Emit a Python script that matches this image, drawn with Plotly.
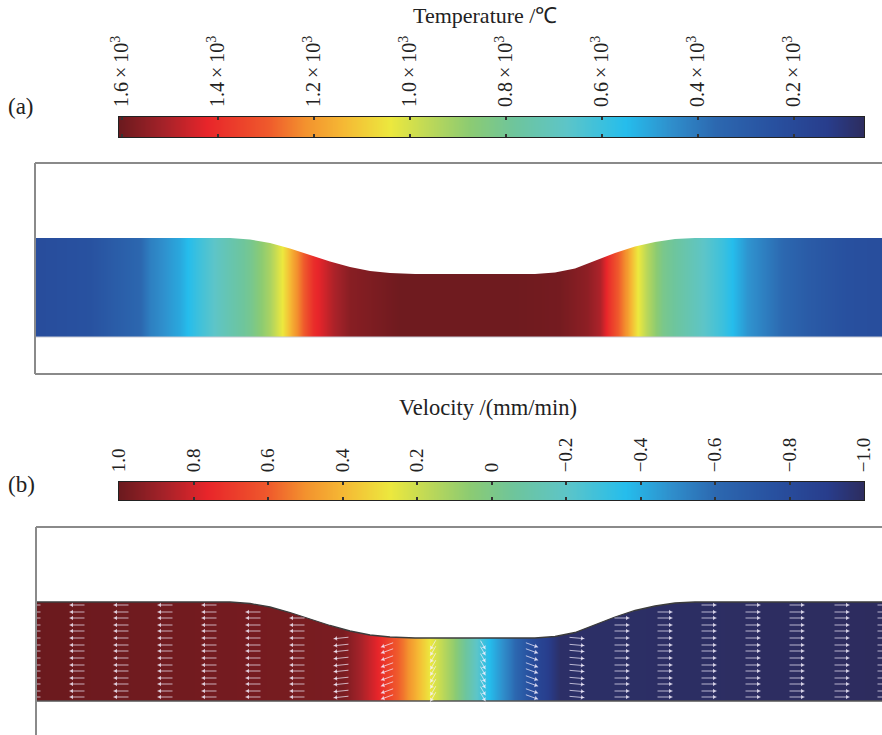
import numpy as np
import plotly.graph_objects as go

W, H = 882, 735

# ---------------- data ----------------
# channel upper boundary (mm); lower boundary is y = 0
profile_x = [0, 19.5, 21.5, 23.5, 25.5, 27.5, 29.5, 31.5, 33.5, 35.5, 38, 50, 52, 54, 56, 58, 60, 62, 64, 66, 84.7]
profile_top = [9.9, 9.9, 9.75, 9.4, 8.85, 8.2, 7.55, 7.0, 6.6, 6.4, 6.3, 6.3, 6.45, 6.85, 7.6, 8.4, 9.05, 9.5, 9.8, 9.9, 9.9]

# temperature along the channel (mm, degC)
temp_x = [0, 5.5, 10.5, 11.5, 14.5, 16.2, 18.5, 21.5, 23.5, 24.8, 25.8, 27.8, 29.8, 31.5, 36.5,
          47.8, 52.5, 55.2, 56.5, 57.3, 59.2, 60.2, 61.2, 62.8, 66.2, 68.8, 71.2, 74.2, 77.2, 81.2, 84.7]
temp_T = [220, 250, 360, 420, 510, 600, 700, 810, 930, 1050, 1180, 1400, 1500, 1560, 1600,
          1600, 1590, 1550, 1500, 1400, 1200, 1050, 950, 820, 700, 600, 470, 380, 300, 240, 225]

# velocity along the channel (mm, mm/min)
vel_x = [0, 30.8, 32.5, 34.2, 36.8, 39.5, 41.8, 43.5, 45.3, 47.5, 49.8, 52.5, 84.7]
vel_v = [1.0, 0.97, 0.88, 0.77, 0.55, 0.27, 0.08, -0.12, -0.35, -0.55, -0.8, -0.98, -1.0]

# velocity arrows
arrow_cols = [-0.2, 4.2, 8.6, 13.0, 17.4, 21.8, 26.2, 30.6, 35.2, 39.8, 44.8, 49.7, 54.2,
              58.7, 63.0, 67.4, 71.8, 76.2, 80.7, 85.0]
arrow_dir = [180, 180, 180, 180, 180, 180, 180, 186, 200, 240, 300, 340, 355,
             0, 0, 0, 0, 0, 0, 0]
arrow_len = [1.5, 1.5, 1.5, 1.5, 1.5, 1.5, 1.5, 1.5, 1.3, 1.1, 1.0, 1.3, 1.5,
             1.5, 1.5, 1.5, 1.5, 1.5, 1.5, 1.5]
arrow_rows = [0.4, 1.0, 1.7, 2.3, 3.0, 3.6, 4.3, 5.0, 5.6, 6.3, 7.0, 7.6, 8.3, 8.9, 9.6]

# colour bar ticks
temp_ticks = [1600, 1400, 1200, 1000, 800, 600, 400, 200]
temp_ticktext = ["1.6\u2009×\u200910<sup>3</sup>", "1.4\u2009×\u200910<sup>3</sup>", "1.2\u2009×\u200910<sup>3</sup>",
                 "1.0\u2009×\u200910<sup>3</sup>", "0.8\u2009×\u200910<sup>3</sup>", "0.6\u2009×\u200910<sup>3</sup>",
                 "0.4\u2009×\u200910<sup>3</sup>", "0.2\u2009×\u200910<sup>3</sup>"]
temp_range = [54, 1606]
vel_ticks = [1.0, 0.8, 0.6, 0.4, 0.2, 0, -0.2, -0.4, -0.6, -0.8, -1.0]
vel_ticktext = ["1.0", "0.8", "0.6", "0.4", "0.2", "0", "−0.2", "−0.4", "−0.6", "−0.8", "−1.0"]
vel_range = [-1.0, 1.0]

# ---------------- styling ----------------
colorscale = [
    [0.00, "#2d2c5e"], [0.05, "#283d8c"], [0.12, "#28509f"], [0.20, "#2c68b0"],
    [0.26, "#2f8fcc"], [0.32, "#25bdec"], [0.40, "#5dc5c8"], [0.47, "#6ec59c"],
    [0.53, "#8ccb72"], [0.58, "#b9d75a"], [0.636, "#ece83e"], [0.70, "#f5b834"],
    [0.75, "#f3922e"], [0.80, "#ef5a2c"], [0.882, "#e8252a"], [0.94, "#a52229"],
    [1.00, "#6b1a1e"],
]
SERIF = "Liberation Serif, Times New Roman, serif"
XMAX = 84.7


def py(p):  # pixel row -> paper y
    return 1 - p / H


def px(p):
    return p / W


fig = go.Figure()

# ---- field panels ----
panels = [
    dict(xa="x", ya="y", xs=temp_x, zs=temp_T, rng=temp_range, yr=[-3.7, 17.4], dom=[py(374), py(163)], outline=False),
    dict(xa="x2", ya="y2", xs=vel_x, zs=vel_v, rng=vel_range, yr=[-3.4, 17.4], dom=[py(735), py(527)], outline=True),
]
for i, p in enumerate(panels):
    fig.add_trace(go.Heatmap(
        x=p["xs"], y=[-1, 11], z=[p["zs"], p["zs"]], zsmooth="best",
        colorscale=colorscale, zmin=p["rng"][0], zmax=p["rng"][1], showscale=False,
        xaxis=p["xa"], yaxis=p["ya"], hoverinfo="skip"))
    # white masks outside the channel
    fig.add_trace(go.Scatter(
        x=[-1] + profile_x + [86, 86, -1], y=[9.9] + profile_top + [9.9, 25, 25],
        fill="toself", fillcolor="white", mode="lines", line=dict(width=0),
        xaxis=p["xa"], yaxis=p["ya"], hoverinfo="skip"))
    fig.add_trace(go.Scatter(
        x=[-1, 86, 86, -1], y=[0, 0, -6, -6],
        fill="toself", fillcolor="white", mode="lines", line=dict(width=0),
        xaxis=p["xa"], yaxis=p["ya"], hoverinfo="skip"))
    if p["outline"]:
        fig.add_trace(go.Scatter(x=profile_x, y=profile_top, mode="lines",
                                 line=dict(color="#3c3c3c", width=1.3),
                                 xaxis=p["xa"], yaxis=p["ya"], hoverinfo="skip"))
        fig.add_trace(go.Scatter(x=[0, XMAX], y=[0, 0], mode="lines",
                                 line=dict(color="#555555", width=1.3),
                                 xaxis=p["xa"], yaxis=p["ya"], hoverinfo="skip"))
    else:
        fig.add_trace(go.Scatter(x=[0, XMAX], y=[0, 0], mode="lines",
                                 line=dict(color="#c9ccd6", width=1),
                                 xaxis=p["xa"], yaxis=p["ya"], hoverinfo="skip"))

# ---- arrows on velocity panel ----
sx, sy, hx, hy, ha = [], [], [], [], []
for cx, d, L in zip(arrow_cols, arrow_dir, arrow_len):
    top = float(np.interp(cx, profile_x, profile_top))
    c, s = np.cos(np.radians(d)), np.sin(np.radians(d))
    for ry in arrow_rows:
        if ry > top - 0.3:
            continue
        x0, y0 = cx - 0.5 * L * c, ry - 0.5 * L * s
        x1, y1 = cx + 0.5 * L * c, ry + 0.5 * L * s
        sx += [x0, x1, None]
        sy += [y0, y1, None]
        hx.append(x1 - 0.25 * c)
        hy.append(y1 - 0.25 * s)
        ha.append(90 - d)
fig.add_trace(go.Scatter(x=sx, y=sy, mode="lines", line=dict(color="rgba(245,240,255,0.7)", width=1),
                         xaxis="x2", yaxis="y2", hoverinfo="skip"))
fig.add_trace(go.Scatter(x=hx, y=hy, mode="markers",
                         marker=dict(symbol="triangle-up", size=4, angle=ha, color="rgba(245,240,255,0.75)",
                                     line=dict(width=0)),
                         xaxis="x2", yaxis="y2", hoverinfo="skip"))

# ---- colour bars as strips ----
cb_a_vals = np.linspace(temp_range[0], temp_range[1], 300)
cb_b_vals = np.linspace(vel_range[0], vel_range[1], 300)
fig.add_trace(go.Heatmap(x=cb_a_vals, y=[0, 1], z=[cb_a_vals, cb_a_vals], zsmooth="best",
                         colorscale=colorscale, zmin=temp_range[0], zmax=temp_range[1],
                         showscale=False, xaxis="x3", yaxis="y3", hoverinfo="skip"))
fig.add_trace(go.Heatmap(x=cb_b_vals, y=[0, 1], z=[cb_b_vals, cb_b_vals], zsmooth="best",
                         colorscale=colorscale, zmin=vel_range[0], zmax=vel_range[1],
                         showscale=False, xaxis="x4", yaxis="y4", hoverinfo="skip"))

hidden = dict(visible=False, showgrid=False, zeroline=False, automargin=False)
cbx = dict(side="top", tickangle=-90, ticks="inside", ticklen=3, tickwidth=1.5, tickcolor="#333",
           showline=True, linecolor="#222", linewidth=1, mirror="ticks", showgrid=False, zeroline=False,
           ticklabelstandoff=5, automargin=False)
cby = dict(range=[0, 1], showticklabels=False, ticks="", showline=True, linecolor="#222", linewidth=1,
           mirror=True, showgrid=False, zeroline=False, automargin=False)

fig.update_layout(
    width=W, height=H, margin=dict(l=0, r=0, t=0, b=0, autoexpand=False), autosize=False,
    paper_bgcolor="white", plot_bgcolor="white", showlegend=False,
    xaxis=dict(domain=[px(35), 1], range=[0, XMAX], anchor="y", **hidden),
    yaxis=dict(domain=panels[0]["dom"], range=panels[0]["yr"], anchor="x", **hidden),
    xaxis2=dict(domain=[px(35), 1], range=[0, XMAX], anchor="y2", **hidden),
    yaxis2=dict(domain=panels[1]["dom"], range=panels[1]["yr"], anchor="x2", **hidden),
    xaxis3=dict(domain=[px(119), px(864)], range=[temp_range[1], temp_range[0]], anchor="y3",
                tickvals=temp_ticks, ticktext=temp_ticktext,
                tickfont=dict(family=SERIF, size=20, color="#222"), **cbx),
    yaxis3=dict(domain=[py(137), py(117)], anchor="x3", **cby),
    xaxis4=dict(domain=[px(119), px(864)], range=[vel_range[1], vel_range[0]], anchor="y4",
                tickvals=vel_ticks, ticktext=vel_ticktext,
                tickfont=dict(family=SERIF, size=19, color="#222"), **cbx),
    yaxis4=dict(domain=[py(500), py(482)], anchor="x4", **cby),
)

# frame lines
frame = dict(color="#8a8a8a", width=2)
shapes = [
    dict(type="line", xref="paper", yref="paper", x0=px(35), x1=1, y0=py(163), y1=py(163), line=frame),
    dict(type="line", xref="paper", yref="paper", x0=px(35), x1=1, y0=py(374), y1=py(374), line=frame),
    dict(type="line", xref="paper", yref="paper", x0=px(35), x1=px(35), y0=py(374), y1=py(163), line=frame),
    dict(type="line", xref="paper", yref="paper", x0=px(36), x1=1, y0=py(527), y1=py(527), line=frame),
    dict(type="line", xref="paper", yref="paper", x0=px(36), x1=px(36), y0=0, y1=py(527), line=frame),
]
fig.update_layout(shapes=[dict(s, layer="above") for s in shapes])

tfont = dict(family=SERIF, size=22, color="#222")
fig.add_annotation(x=px(485), y=py(15), xref="paper", yref="paper", text="Temperature /℃",
                   showarrow=False, font=tfont, xanchor="center", yanchor="middle")
fig.add_annotation(x=px(488), y=py(407), xref="paper", yref="paper", text="Velocity /(mm/min)",
                   showarrow=False, font=dict(tfont, size=22.5), xanchor="center", yanchor="middle")
fig.add_annotation(x=px(6), y=py(106), xref="paper", yref="paper", text="(a)",
                   showarrow=False, font=dict(tfont, size=23), xanchor="left", yanchor="middle")
fig.add_annotation(x=px(6), y=py(484), xref="paper", yref="paper", text="(b)",
                   showarrow=False, font=dict(tfont, size=23), xanchor="left", yanchor="middle")

fig.write_html("out.html", config={"responsive": False})
